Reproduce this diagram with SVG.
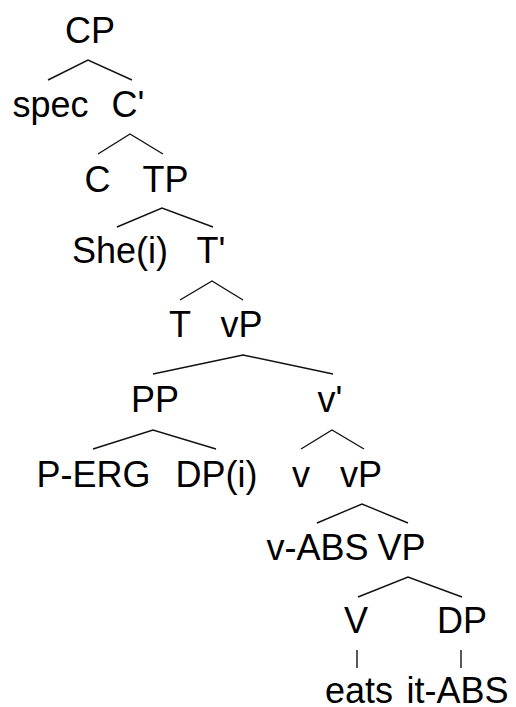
<svg xmlns="http://www.w3.org/2000/svg" width="516" height="707" viewBox="0 0 516 707">
<style>
text{font-family:"Liberation Sans",Arial,sans-serif;font-size:36px;fill:#000;text-anchor:middle}
.e{stroke:#111;stroke-width:1.4;fill:none}
</style>
<rect width="516" height="707" fill="#fff"/>
<g id="connectors">
<polyline class="e" points="48,80 88,60 132,80"/>
<polyline class="e" points="98,154 130,134 163,154"/>
<polyline class="e" points="117,227 162,208 213,227"/>
<polyline class="e" points="180,300 212,281 243,300"/>
<polyline class="e" points="153,374 243,355 333,374"/>
<polyline class="e" points="93,449 153,430 216,449"/>
<polyline class="e" points="301,449 332,430 364,449"/>
<polyline class="e" points="317,523 362,504 408,523"/>
<polyline class="e" points="358,597 408,577 462,597"/>
<line class="e" x1="357" y1="650" x2="357" y2="668"/>
<line class="e" x1="461" y1="650" x2="461" y2="668"/>
</g>
<g id="n-CP"><text x="90" y="43">CP</text></g>
<g id="n-spec"><text x="50.5" y="117">spec</text></g>
<g id="n-Cbar"><text x="128" y="117">C'</text></g>
<g id="n-C"><text x="97.5" y="192">C</text></g>
<g id="n-TP"><text x="165.5" y="192">TP</text></g>
<g id="n-She"><text x="120" y="263">She(i)</text></g>
<g id="n-Tbar"><text x="211" y="263">T'</text></g>
<g id="n-T"><text x="180" y="337">T</text></g>
<g id="n-vP1"><text x="241.5" y="337">vP</text></g>
<g id="n-PP"><text x="155" y="412">PP</text></g>
<g id="n-vbar"><text x="330" y="412">v'</text></g>
<g id="n-PERG"><text x="93.5" y="487">P-ERG</text></g>
<g id="n-DPi"><text x="216.5" y="487">DP(i)</text></g>
<g id="n-v"><text x="301" y="487">v</text></g>
<g id="n-vP2"><text x="361" y="487">vP</text></g>
<g id="n-vABS"><text x="317.5" y="560">v-ABS</text></g>
<g id="n-VP"><text x="401.5" y="560">VP</text></g>
<g id="n-V"><text x="356" y="633">V</text></g>
<g id="n-DP"><text x="462" y="633">DP</text></g>
<g id="n-eats"><text x="359" y="703">eats</text></g>
<g id="n-itABS"><text x="457.5" y="703">it-ABS</text></g>
</svg>
